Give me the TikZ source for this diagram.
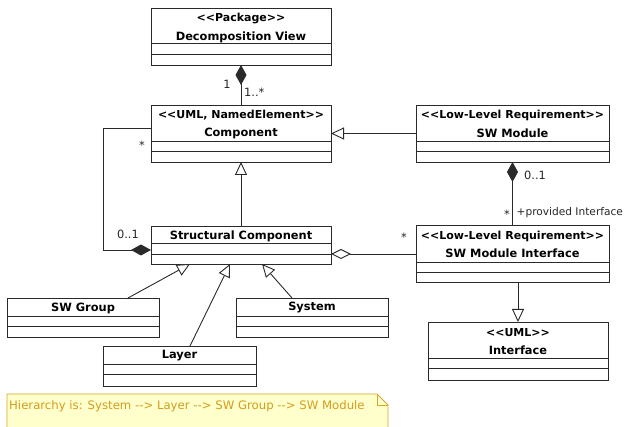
\documentclass[tikz,border=0pt]{standalone}
\usepackage{fontspec}
\setmainfont{DejaVu Sans}[Ligatures=TeXOff]
\usetikzlibrary{arrows.meta}
\definecolor{edge}{HTML}{2A2A2A}
\definecolor{notefill}{HTML}{FFFFCC}
\definecolor{noteedge}{HTML}{D8A52A}
\definecolor{notetext}{HTML}{D39C1E}
\begin{document}
\begin{tikzpicture}[x=1pt,y=-1pt,
  cls/.style={draw=edge, line width=0.9pt, fill=white, inner sep=0pt, outer sep=0pt},
  ttl/.style={font=\fontsize{11.4}{13}\bfseries\selectfont, inner sep=0pt},
  stereo/.style={font=\fontsize{11}{13}\bfseries\selectfont, inner sep=0pt},
  lbl/.style={font=\fontsize{11.4}{13}\selectfont, inner sep=0pt, text=black!85},
  sep/.style={draw=edge, line width=0.9pt},
  conn/.style={draw=edge, line width=0.9pt},
  gen/.style={conn, -{Triangle[open, length=13pt, width=12pt, fill=white]}},
  compo/.style={conn, {Diamond[length=20pt, width=11pt]}-},
  aggr/.style={conn, {Diamond[open, length=20pt, width=10pt, fill=white]}-},
]
\useasboundingbox (0,0) rectangle (624,427);

% class boxes
\node[cls, minimum width=180pt, minimum height=57pt] (dv) at (241,36.5) {};
\node[cls, minimum width=180pt, minimum height=57pt] (comp) at (241,133.5) {};
\node[cls, minimum width=193pt, minimum height=57pt] (smod) at (512.5,133.5) {};
\node[cls, minimum width=180pt, minimum height=38pt] (struct) at (241,245) {};
\node[cls, minimum width=193pt, minimum height=57pt] (smi) at (512.5,253.5) {};
\node[cls, minimum width=180pt, minimum height=58pt] (iface) at (518,351) {};
\node[cls, minimum width=152pt, minimum height=39pt] (swg) at (83,317.5) {};
\node[cls, minimum width=152pt, minimum height=39pt] (sys) at (312,317.5) {};
\node[cls, minimum width=153pt, minimum height=40pt] (layer) at (179.5,366) {};

% compartment separators
\draw[sep] (151,43) -- (331,43) (151,54) -- (331,54);
\draw[sep] (151,141) -- (331,141) (151,151) -- (331,151);
\draw[sep] (416,141) -- (609,141) (416,151) -- (609,151);
\draw[sep] (151,243) -- (331,243) (151,254) -- (331,254);
\draw[sep] (416,262) -- (609,262) (416,272) -- (609,272);
\draw[sep] (428,358) -- (608,358) (428,368) -- (608,368);
\draw[sep] (7,316) -- (159,316) (7,326) -- (159,326);
\draw[sep] (236,316) -- (388,316) (236,326) -- (388,326);
\draw[sep] (103,364) -- (256,364) (103,374) -- (256,374);

% class titles
\node[stereo] (dvst) at (241,19) {<<Package>>};
\node[ttl] (dvnm) at (241,37) {Decomposition View};
\node[stereo] (compst) at (241,115) {<<UML, NamedElement>>};
\node[ttl] (compnm) at (241,133) {Component};
\node[stereo] (smodst) at (512.5,115) {<<Low-Level Requirement>>};
\node[ttl] (smodnm) at (512.5,133) {SW Module};
\node[ttl] (structnm) at (241,236) {Structural Component};
\node[stereo] (smist) at (512.5,236) {<<Low-Level Requirement>>};
\node[ttl] (sminm) at (512.5,253) {SW Module Interface};
\node[stereo] (ifacest) at (518,333) {<<UML>>};
\node[ttl] (ifacenm) at (518,350) {Interface};
\node[ttl] (swgnm) at (83,308) {SW Group};
\node[ttl] (sysnm) at (312,308) {System};
\node[ttl] (layernm) at (179.5,356) {Layer};

% associations
\draw[compo] (dv.south) -- (comp.north);
\draw[gen] (struct.north) -- (comp.south);
\draw[gen] (smod.west) -- (comp.east);
\draw[compo] (smod.south) -- (smi.north);
\draw[gen] (smi.south -| iface.north) -- (iface.north);
\draw[conn, -{Diamond[length=20pt, width=11pt]}] ([yshift=5.5pt]comp.west) -- ++(-48,0) |- ([yshift=-5pt]struct.west);
\path ([yshift=-9pt]struct.east) coordinate (aggA);
\draw[aggr] (aggA) -- (aggA -| smi.west);
\draw[gen] ([xshift=45pt]swg.north) -- ([xshift=-51pt]struct.south);
\draw[gen] ([xshift=10.5pt]layer.north) -- ([xshift=-11pt]struct.south);
\draw[gen] ([xshift=-20pt]sys.north) -- ([xshift=21pt]struct.south);

% multiplicities and roles
\node[lbl] (m1) at (227,84) {1};
\node[lbl, anchor=west] (m2) at (244,92) {1..*};
\node[lbl] (m3) at (142,145) {*};
\node[lbl] (m4) at (128,234) {0..1};
\node[lbl] (m5) at (404,237) {*};
\node[lbl, anchor=west] (m6) at (524,175) {0..1};
\node[lbl] (m7) at (507,214) {*};
\node[lbl, anchor=west, font=\fontsize{10.6}{12}\selectfont] (role) at (516.5,213) {+provided Interface};

% note
\draw[draw=noteedge, fill=notefill, line width=0.9pt]
  (7,394) -- (377,394) -- (388,405) -- (388,432) -- (7,432) -- cycle;
\draw[draw=noteedge, line width=0.9pt] (377,394) -- (377,405) -- (388,405);
\node[lbl, anchor=west, text=notetext, font=\fontsize{11.7}{13}\selectfont] (notetxt) at (9,406)
  {Hierarchy is:  System --> Layer --> SW Group --> SW Module};
\end{tikzpicture}
\end{document}
